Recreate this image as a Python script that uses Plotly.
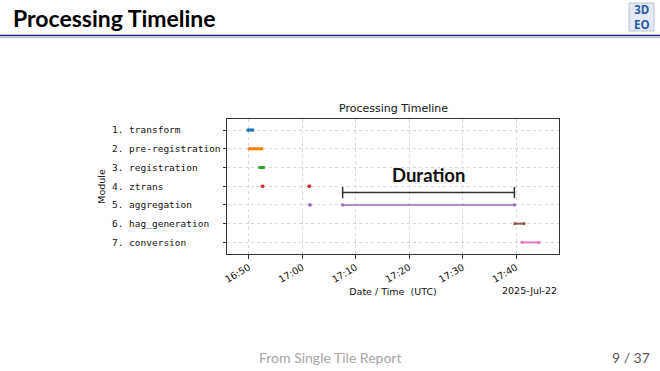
import plotly.graph_objects as go
import pandas as pd

# ---------------- data ----------------
modules = ["1. transform", "2. pre-registration", "3. registration", "4. ztrans",
           "5. aggregation", "6. hag_generation", "7. conversion"]
seg_module = [0, 1, 2, 3, 3, 4, 4, 5, 6]
seg_start = ["16:49:50", "16:50:04", "16:52:04", "16:52:29", "17:01:14",
             "17:01:23", "17:07:33", "17:39:48", "17:41:06"]
seg_end = ["16:50:42", "16:52:24", "16:52:42", "16:52:37", "17:01:22",
           "17:01:29", "17:39:42", "17:41:30", "17:44:18"]
date_str = "2025-07-22"
date_label = "2025-Jul-22"
x_ticks = ["16:50", "17:00", "17:10", "17:20", "17:30", "17:40"]
x_range = ["16:45:54", "17:48:03"]

# ---------------- style ----------------
colors = ["#1f77b4", "#ff7f0e", "#2ca02c", "#d62728", "#9467bd", "#8c564b", "#e377c2"]
widths = [3, 3, 3, 2.5, 1.5, 2, 2]

W, H = 660, 371
L, R, T, B = 227, 559, 119, 254  # plot area in pixels


def px(x):
    return (x - L) / (R - L)


def py(y):
    return (B - y) / (B - T)


def ts(t):
    return pd.Timestamp(f"{date_str} {t}")


fig = go.Figure()
for m, s, e in zip(seg_module, seg_start, seg_end):
    fig.add_trace(go.Scatter(
        x=[ts(s), ts(e)], y=[m, m], mode="lines+markers",
        line=dict(color=colors[m], width=widths[m]),
        marker=dict(color=colors[m], size=max(widths[m], 2.8), symbol="square", line=dict(width=0)),
        showlegend=False, hoverinfo="skip"))

# duration bracket derived from the aggregation main segment
agg_s, agg_e = ts(seg_start[6]), ts(seg_end[6])
yb = seg_module[6] - 0.66
fig.add_shape(type="line", x0=agg_s, x1=agg_e, y0=yb, y1=yb, xref="x", yref="y",
              line=dict(color="#333333", width=1.5))
for xx in (agg_s, agg_e):
    fig.add_shape(type="line", x0=xx, x1=xx, y0=yb - 0.3, y1=yb + 0.3, xref="x", yref="y",
                  line=dict(color="#333333", width=1.5))
fig.add_annotation(x=agg_s + (agg_e - agg_s) / 2, y=yb - 0.95, xref="x", yref="y",
                   text="<b>Duration</b>", showarrow=False, xanchor="center",
                   font=dict(family="Lato", size=18.5, color="#111111"))

# chart title
fig.add_annotation(x=0.5, y=py(108), xref="paper", yref="paper", text="Processing Timeline",
                   showarrow=False, font=dict(family="DejaVu Sans", size=11, color="#111111"),
                   xanchor="center", yanchor="middle")
fig.add_annotation(x=1, y=py(290), xref="paper", yref="paper", text=date_label,
                   showarrow=False, xanchor="right", yanchor="middle",
                   font=dict(family="DejaVu Sans", size=9.5, color="#111111"))

# slide decorations
fig.add_annotation(x=px(11), y=py(18), xref="paper", yref="paper", text="<b>Processing Timeline</b>",
                   showarrow=False, xanchor="left", yanchor="middle",
                   font=dict(family="Lato", size=23, color="#000000"))
fig.add_shape(type="line", x0=px(0), x1=px(660), y0=py(35.5), y1=py(35.5), xref="paper", yref="paper",
              line=dict(color="#1a1a8c", width=1.5))
fig.add_shape(type="line", x0=px(0), x1=px(660), y0=py(37.5), y1=py(37.5), xref="paper", yref="paper",
              line=dict(color="#c8c8c8", width=1.5))
fig.add_shape(type="rect", x0=px(629), x1=px(654), y0=py(3), y1=py(31), xref="paper", yref="paper",
              line=dict(color="#b8c2d6", width=1), fillcolor="#e4e9f3")
fig.add_annotation(x=px(641.5), y=py(17), xref="paper", yref="paper", text="<b>3D<br>EO</b>",
                   showarrow=False, font=dict(family="Open Sans", size=11.5, color="#2b5aa8"),
                   align="center", xanchor="center", yanchor="middle")
fig.add_annotation(x=px(330), y=py(357), xref="paper", yref="paper", text="From Single Tile Report",
                   showarrow=False, font=dict(family="Lato", size=14, color="#a6a6a6"),
                   xanchor="center", yanchor="middle")
fig.add_annotation(x=px(652), y=py(357), xref="paper", yref="paper", text="9 / 37",
                   showarrow=False, xanchor="right", font=dict(family="Lato", size=14, color="#595959"),
                   yanchor="middle")

# left-aligned y tick labels (monospace, padded with non-breaking spaces)
maxlen = max(len(s) for s in modules)
ticktext = [s + "\u00a0" * (maxlen - len(s)) for s in modules]

fig.update_layout(
    width=W, height=H, paper_bgcolor="white", plot_bgcolor="white",
    margin=dict(l=L, r=W - R, t=T, b=H - B, pad=0),
    font=dict(family="DejaVu Sans", size=9.5, color="#111111"),
    xaxis=dict(type="date", range=[ts(x_range[0]), ts(x_range[1])],
               tickvals=[ts(t) for t in x_ticks], ticktext=x_ticks, tickangle=-30,
               showgrid=True, gridcolor="#d8d8d8", griddash="3px,3px", gridwidth=0.8,
               showline=True, linecolor="#333333", linewidth=1, mirror=True,
               ticks="outside", ticklen=3.5, tickcolor="#333333",
               tickfont=dict(family="DejaVu Sans", size=9.5),
               title=dict(text="Date / Time\u00a0\u00a0(UTC)", standoff=4,
                          font=dict(family="DejaVu Sans", size=9.5)),
               zeroline=False),
    yaxis=dict(range=[6.62, -0.59], tickvals=list(range(len(modules))), ticktext=ticktext,
               showgrid=True, gridcolor="#d8d8d8", griddash="3px,3px", gridwidth=0.8,
               showline=True, linecolor="#333333", linewidth=1, mirror=True,
               ticks="outside", ticklen=3.5, tickcolor="#333333",
               tickfont=dict(family="DejaVu Sans Mono", size=9.5),
               title=dict(text="Module", standoff=4, font=dict(family="DejaVu Sans", size=9.5)),
               zeroline=False),
)

fig.write_html("out.html", config={"displayModeBar": False},
               post_script="document.body.style.margin='0';document.body.style.overflow='hidden';")
